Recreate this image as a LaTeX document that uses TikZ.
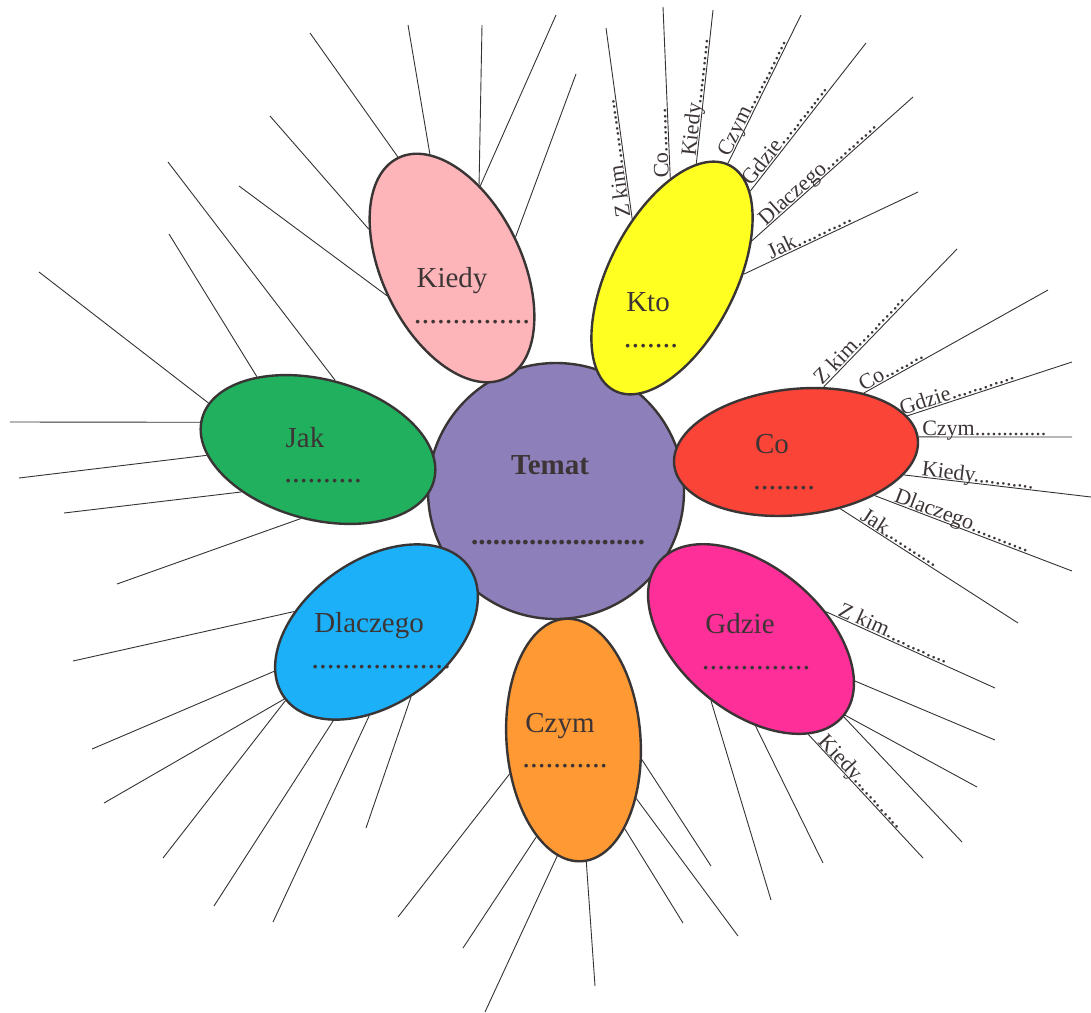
\documentclass[tikz,border=0pt]{standalone}
\usepackage{fontspec}
\setmainfont{Liberation Serif}
\usetikzlibrary{shapes.geometric}
\definecolor{lavender}{HTML}{8D7FBA}
\definecolor{blush}{HTML}{FEB5BA}
\definecolor{lemon}{HTML}{FFFF22}
\definecolor{vermilion}{HTML}{FA4438}
\definecolor{fuchsia}{HTML}{FE2F99}
\definecolor{tangerine}{HTML}{FE9933}
\definecolor{azure}{HTML}{1CB0F9}
\definecolor{emerald}{HTML}{20B05E}
\definecolor{edge}{HTML}{3A3535}
\definecolor{wire}{HTML}{333333}
\definecolor{ink}{HTML}{3D3535}

\begin{document}
\begin{tikzpicture}[x=1pt, y=-1pt]

  % Default styles
  \tikzset{
    hub/.style={circle, draw=edge, line width=2.4pt, fill=lavender, minimum size=256pt, inner sep=0pt},
    petal/.style={ellipse, draw=edge, line width=2.4pt, inner sep=0pt},
    ray/.style={draw=wire, line width=0.9pt},
    word/.style={anchor=base, inner sep=0pt, text=ink, font=\fontsize{29}{29}\selectfont},
    blank/.style={anchor=base, inner sep=0pt, text=ink, font=\fontsize{31}{31}\selectfont},
    tag/.style={anchor=base west, inner sep=0pt, sloped, allow upside down, text=ink, font=\fontsize{22}{22}\selectfont}
  }

  \useasboundingbox (0,0) rectangle (1091,1012);

  % Centre
  \node[hub] (temat) at (556,491) {};
  \node[word, font=\fontsize{29}{29}\selectfont\bfseries] (temat_title) at (550,474) {Temat};
  \node[word, font=\fontsize{29}{29}\selectfont\bfseries] (temat_dots) at (558,544) {........................};

  % Petals
  \node[
    petal,
    fill=blush,
    minimum width=139pt,
    minimum height=245pt,
    rotate=26
  ] (kiedy) at (452,268) {};

  \node[
    petal,
    fill=lemon,
    minimum width=127pt,
    minimum height=253pt,
    rotate=-27
  ] (kto) at (672,278) {};

  \node[
    petal,
    fill=vermilion,
    minimum width=245pt,
    minimum height=126pt,
    rotate=6
  ] (co) at (796,452) {};

  \node[
    petal,
    fill=fuchsia,
    minimum width=240pt,
    minimum height=144pt,
    rotate=-40
  ] (gdzie) at (751,639) {};

  \node[
    petal,
    fill=tangerine,
    minimum width=134pt,
    minimum height=243pt,
    rotate=4
  ] (czym) at (573.5,740) {};

  \node[
    petal,
    fill=azure,
    minimum width=226pt,
    minimum height=144pt,
    rotate=35
  ] (dlaczego) at (376.5,632) {};

  \node[
    petal,
    fill=emerald,
    minimum width=240pt,
    minimum height=140pt,
    rotate=-15
  ] (jak) at (318,449.5) {};

  % Petal words
  \node[word] (kiedy_title) at (452,287) {Kiedy};
  \node[blank] (kiedy_dots) at (472,323) {...............};
  \node[word] (kto_title) at (648,311) {Kto};
  \node[blank] (kto_dots) at (651,347) {.......};
  \node[word] (co_title) at (772,453) {Co};
  \node[blank] (co_dots) at (784,489) {........};
  \node[word] (gdzie_title) at (740,633) {Gdzie};
  \node[blank] (gdzie_dots) at (756,669) {..............};
  \node[word] (czym_title) at (560,732) {Czym};
  \node[blank] (czym_dots) at (565,767) {...........};
  \node[word] (dlaczego_title) at (369,632) {Dlaczego};
  \node[blank] (dlaczego_dots) at (381,668) {..................};
  \node[word] (jak_title) at (305,447) {Jak};
  \node[blank] (jak_dots) at (323,482) {..........};

  % Rays: Kiedy
  \foreach \a/\x/\y in {90/310/33, 75/408/25, 46/482/25, 45/556/15, 0/576/74, 129/270/116, 177/239/186}
    \draw[ray] (kiedy.\a) -- (\x,\y);

  % Rays: Kto, with questions
  \foreach \a/\x/\y/\p/\t in {
      151/606/28/0.01/{Z kim............},
      118/663/7/0/{Co........},
      105/713/10/0.04/{Kiedy............},
      91/801/15/0.03/{Czym..............},
      75/866/43/0.02/{Gdzie.............},
      52/913/97/0.09/{Dlaczego............},
      30/918/192/0.16/{Jak...........}}
    \draw[ray] (kto.\a) -- (\x,\y) node[tag, pos=\p] {\raisebox{1.5pt}{\t}};

  % Rays: Co, with questions
  \foreach \a/\x/\y/\p/\t in {
      61/957/249/0/{Z kim............},
      35/1048/290/0/{Co........},
      12/1072/362/-0.03/{Gdzie............},
      1/1072/437/0.02/{Czym.............},
      342/1091/497/0.09/{Kiedy...........},
      325/1072/571/0.09/{Dlaczego...........},
      302/1018/623/0.1/{Jak...........}}
    \draw[ray] (co.\a) -- (\x,\y) node[tag, pos=\p] {\raisebox{1.5pt}{\t}};

  % Rays: Gdzie
  \foreach \a/\x/\y/\p/\t in {
      60/995/688/0.06/{Z kim............},
      18/995/740/0/{},
      1/977/787/0/{},
      0/962/842/0/{},
      341/923/858/0.07/{Kiedy............},
      313/823/863/0/{},
      277/771/900/0/{}}
    \draw[ray] (gdzie.\a) -- (\x,\y) node[tag, pos=\p] {\raisebox{1.5pt}{\t}};

  % Rays: Czym
  \foreach \a/\x/\y in {204/398/917, 245/463/948, 258/485/1012, 272/595/986, 296/683/923, 313/738/936, 340/711/866}
    \draw[ray] (czym.\a) -- (\x,\y);

  % Rays: Dlaczego
  \foreach \a/\x/\y in {131/73/661, 166/92/749, 181/104/803, 182/163/858, 209/214/906, 230/273/922, 263/366/828}
    \draw[ray] (dlaczego.\a) -- (\x,\y);

  % Rays: Jak
  \foreach \a/\x/\y in {91/168/162, 145/169/234, 172/39/272, 182/10/422, 198/19/478, 224/64/513, 271/117/584}
    \draw[ray] (jak.\a) -- (\x,\y);

\end{tikzpicture}
\end{document}
